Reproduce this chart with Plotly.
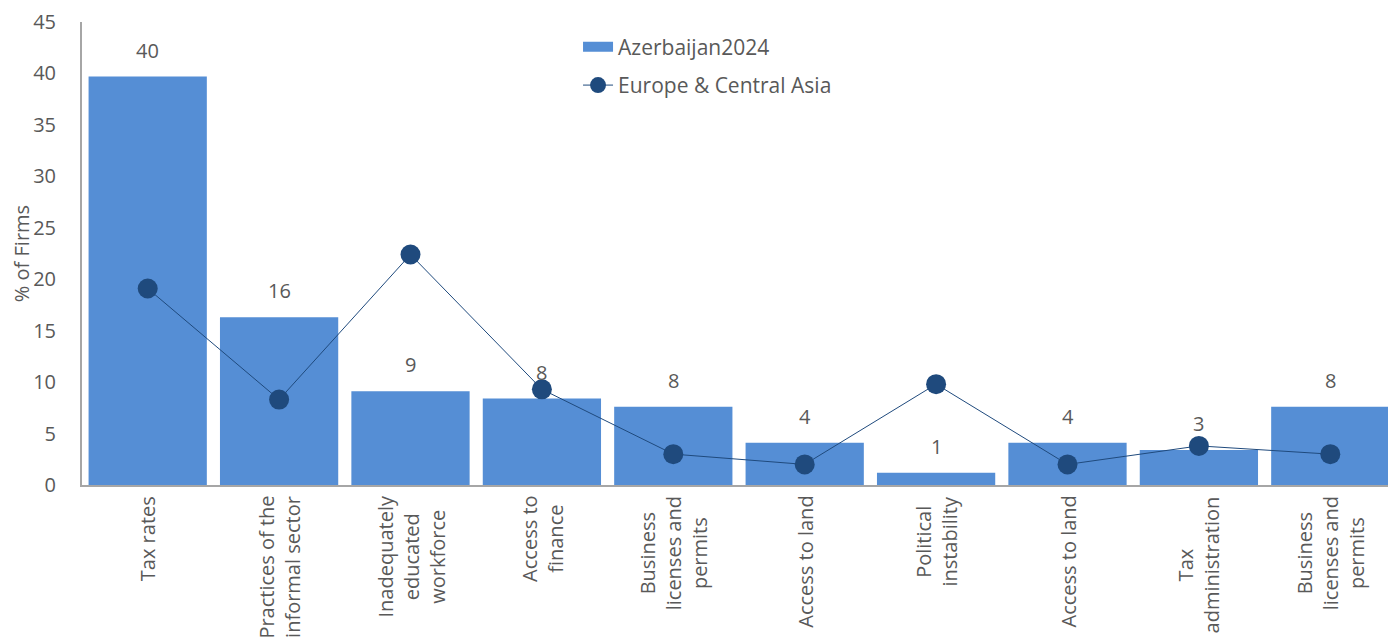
import plotly.graph_objects as go

categories = ["Tax rates", "Practices of the<br>informal sector", "Inadequately<br>educated<br>workforce",
              "Access to<br>finance", "Business<br>licenses and<br>permits", "Access to land",
              "Political<br>instability", "Access to land", "Tax<br>administration",
              "Business<br>licenses and<br>permits"]
azerbaijan_2024 = [39.7, 16.3, 9.1, 8.4, 7.6, 4.1, 1.2, 4.1, 3.4, 7.6]
europe_central_asia = [19.1, 8.3, 22.4, 9.3, 3.0, 2.0, 9.8, 2.0, 3.8, 3.0]
y_ticks = [0, 5, 10, 15, 20, 25, 30, 35, 40, 45]

BAR_COLOR = "#558ED5"
LINE_COLOR = "#1F4A7D"
TEXT_COLOR = "#595959"
FONT = "Open Sans"

xs = list(range(len(categories)))

fig = go.Figure()
fig.add_trace(go.Bar(
    x=xs, y=azerbaijan_2024, name="Azerbaijan2024",
    marker=dict(color=BAR_COLOR, line=dict(width=0)),
    showlegend=False, hoverinfo="y",
))
# legend proxy for the bar series (wide rectangle symbol)
fig.add_trace(go.Scatter(
    x=[None], y=[None], mode="lines", name="Azerbaijan2024",
    line=dict(color=BAR_COLOR, width=13), legendgroup="a",
))
fig.add_trace(go.Scatter(
    x=xs, y=europe_central_asia, name="Europe & Central Asia",
    mode="lines+markers",
    line=dict(color=LINE_COLOR, width=1),
    marker=dict(color=LINE_COLOR, size=20),
    legendgroup="b",
))

annotations = []
for i, v in enumerate(azerbaijan_2024):
    annotations.append(dict(
        x=i, y=v, xref="x", yref="y", text=f"{v:.0f}", showarrow=False,
        yanchor="bottom", yshift=11, font=dict(size=20, color=TEXT_COLOR, family=FONT),
    ))
for i, c in enumerate(categories):
    annotations.append(dict(
        x=i, y=0, xref="x", yref="paper", text=c, showarrow=False,
        textangle=-90, yanchor="top", xanchor="center", yshift=-9, align="center",
        font=dict(size=20, color=TEXT_COLOR, family=FONT),
    ))

fig.update_layout(
    width=1388, height=634,
    margin=dict(l=74, r=0, t=14, b=157, autoexpand=False),
    plot_bgcolor="white", paper_bgcolor="white",
    bargap=0.1,
    font=dict(family=FONT, color=TEXT_COLOR, size=20),
    xaxis=dict(
        range=[-0.5, len(categories) - 0.5], automargin=False,
        showticklabels=False, showgrid=False, zeroline=False,
        showline=True, linecolor="#A6A6A6", linewidth=2, ticks="",
    ),
    yaxis=dict(
        range=[0, 45], tickvals=y_ticks, showgrid=False, zeroline=False, automargin=False,
        showline=True, linecolor="#A6A6A6", linewidth=2, ticks="", ticklabelstandoff=20,
        ticklabeloverflow="allow",
        tickfont=dict(size=20, color=TEXT_COLOR, family=FONT),
        title=dict(text="% of Firms", font=dict(size=20, color=TEXT_COLOR, family=FONT), standoff=6),
    ),
    legend=dict(
        x=0.3775, y=0.99, xanchor="left", yanchor="top",
        bgcolor="rgba(0,0,0,0)", font=dict(size=21, color=TEXT_COLOR, family=FONT),
        traceorder="grouped", tracegroupgap=8,
    ),
    annotations=annotations,
)

fig.write_html("out.html")
